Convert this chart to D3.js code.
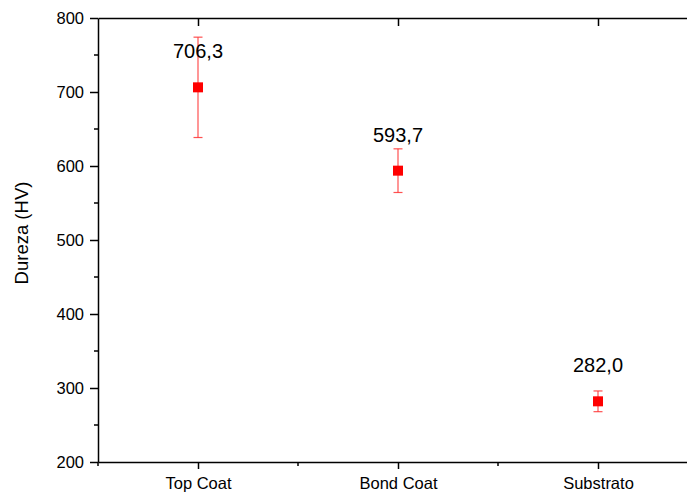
<!DOCTYPE html>
<html>
<head>
<meta charset="utf-8">
<script src="https://cdn.jsdelivr.net/npm/d3@7"></script>
<style>
  body { margin: 0; background: white; }
</style>
</head>
<body>
<div id="plot"></div>
<script>
// chart data
var categories = ["Top Coat", "Bond Coat", "Substrato"]
var hardness = [706.3, 593.7, 282.0]
var hardnessErr = [67.8, 29.5, 14.0]
var labels = ["706,3", "593,7", "282,0"]
var yTicks = [200, 300, 400, 500, 600, 700, 800]

var w = 687
var h = 492
var plotLeft = 98, plotTop = 18, plotBottom = 462
var font = "Arial, 'Liberation Sans', sans-serif"

var svg = d3.select("#plot").append("svg")
    .attr("width", w).attr("height", h)

// x position: category index 1..3 in a 0.5..3.5 domain
var xScale = d3.scaleLinear().domain([0.5, 3.5]).range([plotLeft, plotLeft + 600])
var yScale = d3.scaleLinear().domain([200, 800]).range([plotBottom, plotTop])

var idx = categories.map(function(d, i) { return i + 1 })

// left axis
var yAxis = d3.axisLeft(yScale).tickValues(yTicks).tickSize(8).tickSizeOuter(0).tickPadding(6)
var gy = svg.append("g").attr("transform", "translate(" + plotLeft + ",0)").call(yAxis)
gy.selectAll("text").attr("font-size", "16.5px").attr("font-family", font).attr("fill", "black")
gy.selectAll("line").attr("stroke", "black").attr("stroke-width", 1.5)
gy.select(".domain").attr("stroke", "black").attr("stroke-width", 1.5)
// minor y ticks
gy.selectAll(".minor").data([250, 350, 450, 550, 650, 750]).enter()
    .append("line")
    .attr("x1", -4).attr("x2", 0)
    .attr("y1", function(d) { return yScale(d) })
    .attr("y2", function(d) { return yScale(d) })
    .attr("stroke", "black").attr("stroke-width", 1.5)

// bottom axis
var xAxis = d3.axisBottom(xScale).tickValues(idx)
    .tickFormat(function(d) { return categories[d - 1] })
    .tickSize(7).tickSizeOuter(0).tickPadding(8)
var gx = svg.append("g").attr("transform", "translate(0," + plotBottom + ")").call(xAxis)
gx.selectAll("text").attr("font-size", "16.5px").attr("font-family", font).attr("fill", "black")
gx.selectAll("line").attr("stroke", "black").attr("stroke-width", 1.5)
gx.select(".domain").attr("stroke", "black").attr("stroke-width", 1.5)
gx.selectAll(".minor").data([0.5, 1.5, 2.5, 3.5]).enter()
    .append("line")
    .attr("x1", function(d) { return xScale(d) })
    .attr("x2", function(d) { return xScale(d) })
    .attr("y1", 0).attr("y2", 4)
    .attr("stroke", "black").attr("stroke-width", 1.5)

// top axis (ticks inside, no labels)
var xTop = d3.axisTop(xScale).tickValues(idx).tickFormat("").tickSize(-8).tickSizeOuter(0)
var gt = svg.append("g").attr("transform", "translate(0," + plotTop + ")").call(xTop)
gt.selectAll("line").attr("stroke", "black").attr("stroke-width", 1.5)
gt.select(".domain").attr("stroke", "black").attr("stroke-width", 1.5)

// y label
svg.append("text")
    .attr("text-anchor", "middle")
    .attr("transform", "translate(28,233) rotate(-90)")
    .attr("font-size", "18.5px")
    .attr("font-family", font)
    .text("Dureza (HV)")

// error bars
var pts = svg.append("g")
idx.forEach(function(d, i) {
    var x = xScale(d)
    var y0 = yScale(hardness[i] - hardnessErr[i])
    var y1 = yScale(hardness[i] + hardnessErr[i])
    var g = pts.append("g").attr("stroke", "#ff3333").attr("stroke-width", 1.2).attr("stroke-opacity", 0.85)
    g.append("line").attr("x1", x).attr("x2", x).attr("y1", y0).attr("y2", y1)
    g.append("line").attr("x1", x - 4.5).attr("x2", x + 4.5).attr("y1", y0).attr("y2", y0)
    g.append("line").attr("x1", x - 4.5).attr("x2", x + 4.5).attr("y1", y1).attr("y2", y1)
})

// square markers
pts.selectAll("rect").data(idx).enter()
    .append("rect")
    .attr("x", function(d) { return xScale(d) - 5 })
    .attr("y", function(d, i) { return yScale(hardness[i]) - 5 })
    .attr("width", 10).attr("height", 10)
    .attr("fill", "red")

// value labels
svg.selectAll(".val").data(idx).enter()
    .append("text")
    .attr("x", function(d) { return xScale(d) })
    .attr("y", function(d, i) { return yScale(hardness[i]) - 29 })
    .attr("text-anchor", "middle")
    .attr("font-size", "20px")
    .attr("font-family", font)
    .text(function(d, i) { return labels[i] })
</script>
</body>
</html>
